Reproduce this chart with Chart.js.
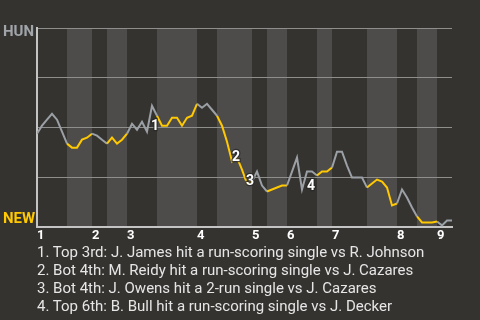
<!DOCTYPE html>
<html>
<head>
<meta charset="utf-8">
<script src="https://cdn.jsdelivr.net/npm/chart.js@4"></script>
<style>
  html, body { margin: 0; padding: 0; background: #353330; }
  #wrap { position: relative; width: 480px; height: 320px; overflow: hidden; }
  #box { position: absolute; left: 0; top: 0; width: 480px; height: 250px; }
  #notes {
    position: absolute; left: 37px; top: 243px;
    font-family: Roboto, sans-serif; font-size: 15px; line-height: 18px;
    color: #e6e6e6; white-space: nowrap;
  }
</style>
</head>
<body>
<div id="wrap">
  <div id="box"><canvas id="wp-chart"></canvas></div>
  <div id="notes"></div>
</div>
<script>
// win probability (HUN %), one value per plate appearance
const winProb = [
    47, 51, 54, 57, 54, 48, 42, 40, 40, 44,
    45, 47, 46, 44, 42, 45, 42, 44, 47, 52,
    49, 53, 48, 61, 56, 51, 51, 55, 55, 51,
    55, 56, 62, 60, 62, 59, 56, 51, 43, 33,
    35, 29, 22, 23, 28, 21, 18, 19, 20, 21,
    21, 28, 35, 19, 28, 28, 26, 28, 28, 30,
    38, 38, 31, 25, 25, 25, 20, 22, 24, 23,
    20, 11, 12, 19, 15, 10, 5.5, 2.5, 2.5, 2.5,
    3, 1, 3.5, 3.5
];

// half innings: start index of each, last value closes the game
const halfStarts = [0, 6, 11, 14, 18, 24, 32, 36, 43, 46, 50, 56, 59, 66, 72, 76, 80, 83];
// inning labels at the start of each top half
const innings = ['1', '2', '3', '4', '5', '6', '7', '8', '9'];
const inningStarts = [0, 11, 18, 32, 43, 50, 59, 72, 80];

// key plays
const eventNums = ['1', '2', '3', '4'];
const eventPA = [23.6, 39.8, 42.6, 54.8];
const eventProb = [50.5, 35, 23, 20.5];
const eventText = [
    '1. Top 3rd: J. James hit a run-scoring single vs R. Johnson',
    '2. Bot 4th: M. Reidy hit a run-scoring single vs J. Cazares',
    '3. Bot 4th: J. Owens hit a 2-run single vs J. Cazares',
    '4. Top 6th: B. Bull hit a run-scoring single vs J. Decker'
];

const BG = '#353330';
const BAND = '#4d4c4a';
const GRAY = '#9aa0a5';
const YELLOW = '#ffc800';

// bottom halves are the odd entries
function isBottom(i) {
    for (let k = 0; k < halfStarts.length - 1; k++) {
        if (i >= halfStarts[k] && i < halfStarts[k + 1]) return k % 2 === 1;
    }
    return false;
}

const bandsPlugin = {
    id: 'bands',
    beforeDraw(chart) {
        const c = chart.ctx, a = chart.chartArea, x = chart.scales.x;
        c.save();
        c.fillStyle = BG;
        c.fillRect(0, 0, chart.width, chart.height);
        c.fillStyle = BAND;
        for (let k = 1; k < halfStarts.length - 1; k += 2) {
            const x0 = x.getPixelForValue(halfStarts[k]);
            const x1 = x.getPixelForValue(halfStarts[k + 1]);
            c.fillRect(x0, a.top, x1 - x0, a.bottom - a.top);
        }
        c.restore();
    },
    afterDatasetsDraw(chart) {
        const c = chart.ctx, x = chart.scales.x, y = chart.scales.y;
        c.save();
        c.font = 'bold 15px Roboto, sans-serif';
        c.textBaseline = 'middle';
        c.textAlign = 'left';
        c.fillStyle = '#a0a5aa';
        c.fillText('HUN', 3, y.getPixelForValue(100) + 4.5);
        c.fillStyle = YELLOW;
        c.fillText('NEW', 3, y.getPixelForValue(0) - 8);

        c.font = 'bold 14px Roboto, sans-serif';
        c.textAlign = 'center';
        c.lineWidth = 2.5;
        c.strokeStyle = 'rgba(40,40,40,0.8)';
        c.fillStyle = '#ffffff';
        eventNums.forEach((n, i) => {
            const px = x.getPixelForValue(eventPA[i]);
            const py = y.getPixelForValue(eventProb[i]);
            c.strokeText(n, px, py);
            c.fillText(n, px, py);
        });
        c.restore();
    }
};

const ctx = document.getElementById('wp-chart').getContext('2d');
const chart = new Chart(ctx, {
    type: 'line',
    data: {
        datasets: [{
            data: winProb.map((v, i) => ({ x: i, y: v })),
            borderWidth: 2,
            pointRadius: 0,
            tension: 0,
            borderColor: GRAY,
            segment: {
                borderColor: (s) => isBottom(s.p0DataIndex) ? YELLOW : GRAY
            }
        }]
    },
    options: {
        responsive: true,
        maintainAspectRatio: false,
        animation: false,
        layout: { padding: { left: 37, right: 28, top: 28, bottom: 5 } },
        plugins: { legend: { display: false }, tooltip: { enabled: false } },
        scales: {
            x: {
                type: 'linear',
                min: 0,
                max: winProb.length - 1,
                afterBuildTicks: (scale) => {
                    scale.ticks = inningStarts.map(v => ({ value: v }));
                },
                grid: { display: false, drawTicks: false },
                border: { display: true, color: '#c4c4c4', width: 2 },
                ticks: {
                    autoSkip: false,
                    maxRotation: 0,
                    align: 'start',
                    labelOffset: 0,
                    padding: 1,
                    color: '#ffffff',
                    font: { family: 'Roboto', size: 13, weight: 'bold' },
                    callback: (v, i) => innings[i]
                }
            },
            y: {
                min: 0,
                max: 100,
                grid: { color: '#8e8e8c', lineWidth: 1, drawTicks: false },
                border: { display: true, color: '#c4c4c4', width: 2 },
                ticks: { display: false, stepSize: 25 }
            }
        }
    },
    plugins: [bandsPlugin]
});

document.getElementById('notes').innerHTML = eventText.map(t => '<div>' + t + '</div>').join('');
</script>
</body>
</html>
